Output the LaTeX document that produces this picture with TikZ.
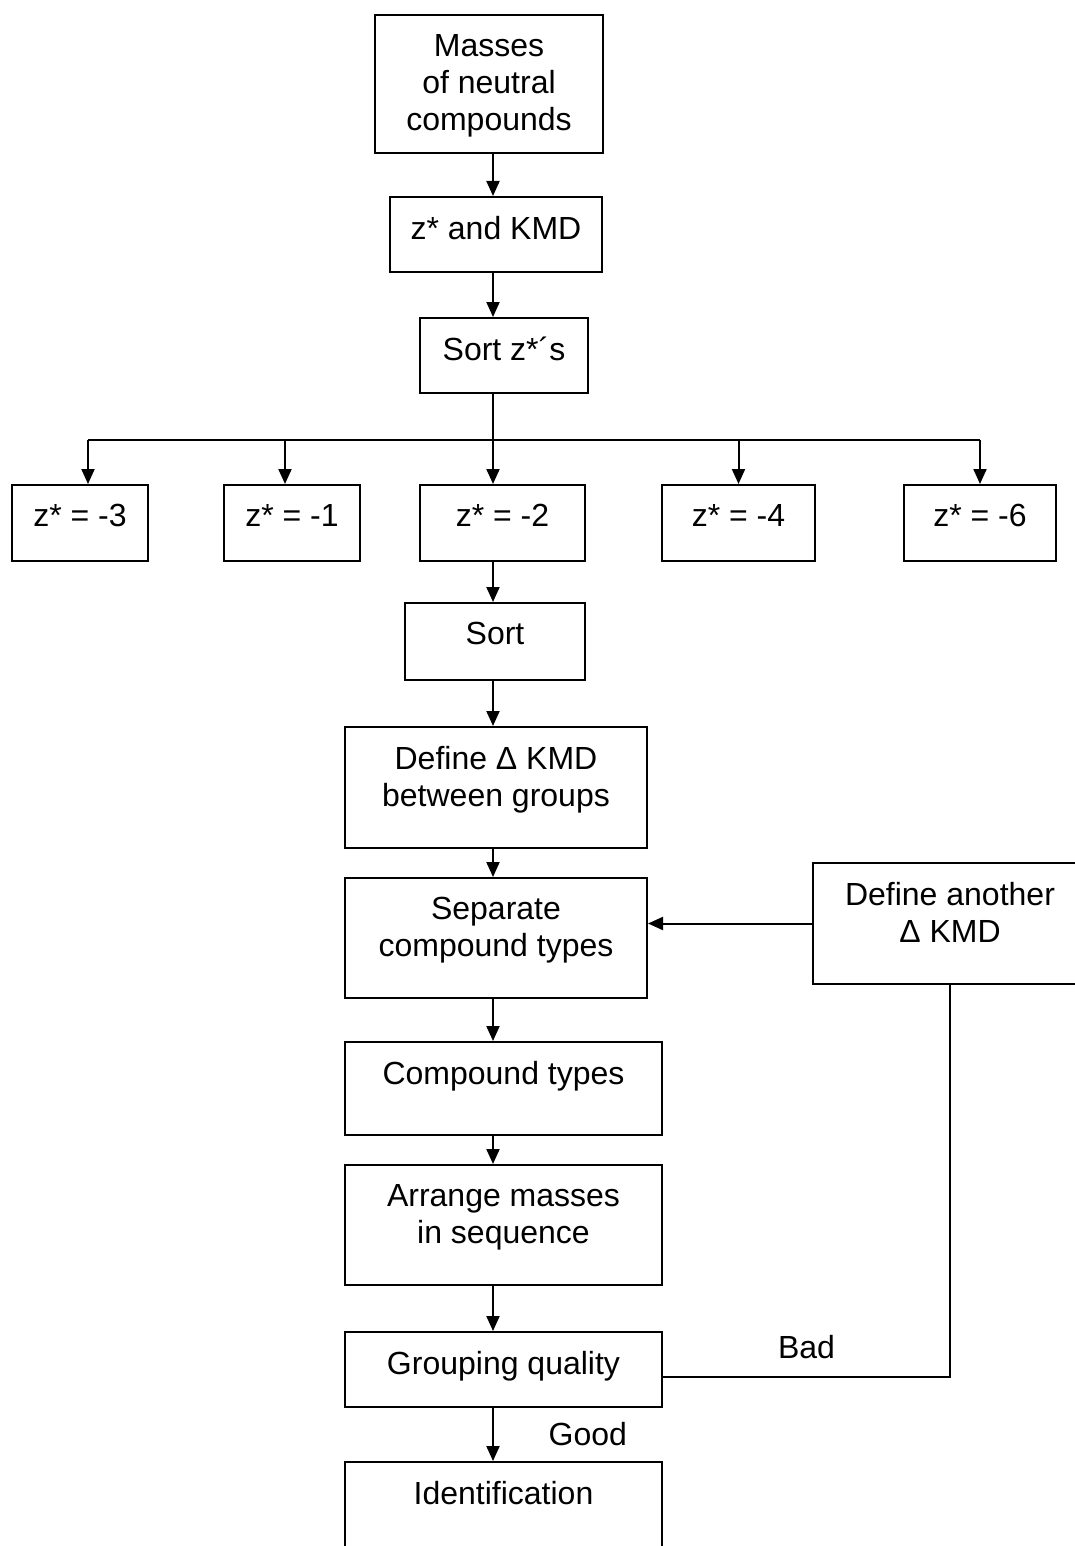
\documentclass[tikz,border=0pt]{standalone}
\usepackage{fontspec}
\setmainfont{Liberation Sans}
\usetikzlibrary{arrows.meta,positioning}

\tikzset{
  stage/.style={draw, thick, line width=1pt, inner sep=0pt},
  stagetext/.style={font=\fontsize{16}{18.4}\selectfont, align=center, inner sep=0pt, anchor=north},
  flow/.style={line width=1pt, -{Triangle[length=7.5pt,width=6.5pt]}},
  link/.style={line width=1pt}
}

\begin{document}
\begin{tikzpicture}[x=0.5pt, y=-0.5pt]
\useasboundingbox (0,0) rectangle (1075,1546);
% main column of arrows
\coordinate (col) at (493,0);
\coordinate (split) at (493,440);

% boxes
\node[stage, minimum width=114pt, minimum height=69pt] (masses) at (489,84) {};
\node[stage, minimum width=106pt, minimum height=37.5pt] (zkmd) at (496,234.5) {};
\node[stage, minimum width=84pt, minimum height=37.5pt] (sortz) at (504,355.5) {};
\node[stage, minimum width=68pt, minimum height=38pt] (zthree) at (80,523) {};
\node[stage, minimum width=68pt, minimum height=38pt] (zone) at (292,523) {};
\node[stage, minimum width=82.5pt, minimum height=38pt] (ztwo) at (502.5,523) {};
\node[stage, minimum width=76.5pt, minimum height=38pt] (zfour) at (738.5,523) {};
\node[stage, minimum width=76pt, minimum height=38pt] (zsix) at (980,523) {};
\node[stage, minimum width=90pt, minimum height=38.5pt] (sort) at (495,641.5) {};
\node[stage, minimum width=151pt, minimum height=60.5pt] (defkmd) at (496,787.5) {};
\node[stage, minimum width=151pt, minimum height=60pt] (separate) at (496,938) {};
\node[stage, minimum width=137pt, minimum height=60.5pt] (another) at (950,923.5) {};
\node[stage, minimum width=158.5pt, minimum height=46.5pt] (types) at (503.5,1088.5) {};
\node[stage, minimum width=158.5pt, minimum height=60pt] (arrange) at (503.5,1225) {};
\node[stage, minimum width=158.5pt, minimum height=37.5pt] (grouping) at (503.5,1369.5) {};
\node[stage, minimum width=158.5pt, minimum height=69pt] (ident) at (503.5,1531) {};

% texts
\node[stagetext, below=10pt of masses.north] (masses-t) {Masses\\of neutral\\compounds};
\node[stagetext, below=10pt of zkmd.north] (zkmd-t) {z* and KMD};
\node[stagetext, below=10pt of sortz.north] (sortz-t) {Sort z*´s};
\node[stagetext, below=10pt of zthree.north] (zthree-t) {z* = -3};
\node[stagetext, below=10pt of zone.north] (zone-t) {z* = -1};
\node[stagetext, below=10pt of ztwo.north] (ztwo-t) {z* = -2};
\node[stagetext, below=10pt of zfour.north] (zfour-t) {z* = -4};
\node[stagetext, below=10pt of zsix.north] (zsix-t) {z* = -6};
\node[stagetext, below=10pt of sort.north] (sort-t) {Sort};
\node[stagetext, below=10pt of defkmd.north] (defkmd-t) {Define Δ KMD\\between groups};
\node[stagetext, below=10pt of separate.north] (separate-t) {Separate\\compound types};
\node[stagetext, below=10pt of another.north] (another-t) {Define another\\Δ KMD};
\node[stagetext, below=10pt of types.north] (types-t) {Compound types};
\node[stagetext, below=10pt of arrange.north] (arrange-t) {Arrange masses\\in sequence};
\node[stagetext, below=10pt of grouping.north] (grouping-t) {Grouping quality};
\node[stagetext, below=10pt of ident.north] (ident-t) {Identification};

% connectors
\draw[flow] (masses.south -| col) -- (zkmd.north -| col);
\draw[flow] (zkmd.south -| col) -- (sortz.north -| col);
\draw[flow] (sortz.south -| col) -- (ztwo.north -| col);
\draw[link] ([xshift=4pt]zthree.north |- split) -- (zsix.north |- split);
\draw[flow] ([xshift=4pt]zthree.north |- split) -- ([xshift=4pt]zthree.north);
\draw[flow] ([xshift=-3.5pt]zone.north |- split) -- ([xshift=-3.5pt]zone.north);
\foreach \z in {zfour,zsix}
  \draw[flow] (\z.north |- split) -- (\z.north);
\draw[flow] (ztwo.south -| col) -- (sort.north -| col);
\draw[flow] (sort.south -| col) -- (defkmd.north -| col);
\draw[flow] (defkmd.south -| col) -- (separate.north -| col);
\draw[flow] (another.west) -- (another.west -| separate.east);
\draw[flow] (separate.south -| col) -- (types.north -| col);
\draw[flow] (types.south -| col) -- (arrange.north -| col);
\draw[flow] (arrange.south -| col) -- (grouping.north -| col);
\draw[flow] (grouping.south -| col) -- (ident.north -| col)
  node[midway, right=24pt, font=\fontsize{16}{18.4}\selectfont] (good) {Good};
\draw[link] ([yshift=-3.75pt]grouping.east) -| (another.south)
  node[pos=0.25, above=5.5pt, font=\fontsize{16}{18.4}\selectfont] (bad) {Bad};
\end{tikzpicture}
\end{document}
